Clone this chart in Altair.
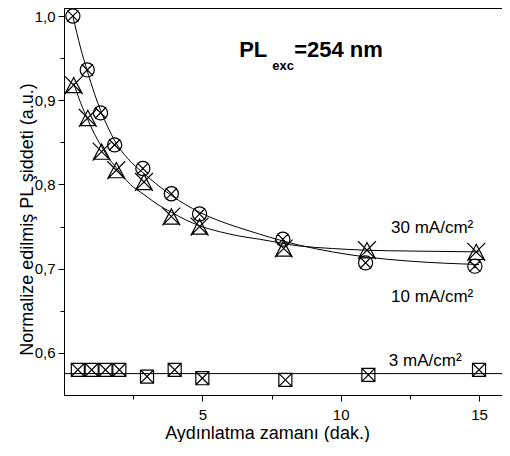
import altair as alt
import pandas as pd

# ---- measured points ----
t10 = [0.32, 0.84, 1.32, 1.83, 2.85, 3.88, 4.9, 7.91, 10.9, 14.85]
v10 = [1.000, 0.936, 0.885, 0.847, 0.819, 0.789, 0.765, 0.735, 0.707, 0.703]
t30 = [0.35, 0.86, 1.36, 1.89, 2.89, 3.88, 4.9, 7.94, 10.95, 14.9]
v30 = [0.918, 0.879, 0.839, 0.817, 0.803, 0.762, 0.750, 0.724, 0.722, 0.720]
t3 = [0.5, 1, 1.5, 2, 3, 4, 5, 8, 11, 15]
v3 = [0.580, 0.580, 0.580, 0.580, 0.572, 0.580, 0.570, 0.568, 0.574, 0.580]

# ---- fitted curves ----
fit10_t = [0.32, 0.6, 0.84, 1.1, 1.32, 1.6, 1.83, 2.3, 2.85, 3.4, 3.88, 4.4, 4.9, 5.6, 6.3, 7.07, 8.5, 9.7, 10.9, 12.5, 15.0]
fit10_v = [1.000, 0.962, 0.935, 0.908, 0.888, 0.867, 0.852, 0.831, 0.814, 0.799, 0.787, 0.776, 0.767, 0.757, 0.749, 0.741, 0.728, 0.720, 0.714, 0.709, 0.705]
fit30_t = [0.35, 0.6, 0.86, 1.1, 1.36, 1.6, 1.89, 2.4, 2.89, 3.4, 3.88, 4.4, 4.9, 5.62, 6.3, 7.07, 8.5, 9.7, 10.9, 12.5, 15.0]
fit30_v = [0.920, 0.897, 0.877, 0.860, 0.845, 0.832, 0.820, 0.800, 0.788, 0.776, 0.767, 0.758, 0.751, 0.744, 0.739, 0.735, 0.727, 0.724, 0.722, 0.721, 0.720]
fit3_t = [0.0, 15.83]
fit3_v = [0.5755, 0.5755]

# ---- axis ticks ----
x_ticks = [2.5, 5, 7.5, 10, 12.5, 15]
y_ticks = [0.55, 0.6, 0.65, 0.7, 0.75, 0.8, 0.85, 0.9, 0.95, 1.0]

# ---- annotations ----
series_labels = ["30 mA/cm²", "10 mA/cm²", "3 mA/cm²"]
series_label_t = [11.82, 11.82, 11.74]
series_label_v = [0.7426, 0.661, 0.585]
title_texts = ["PL", "=254 nm"]
title_t = [6.33, 8.32]
title_v = [0.9514, 0.9514]
sub_texts = ["exc"]
sub_t = [7.53]
sub_v = [0.936]

FONT = "Liberation Sans"
xs = alt.Scale(domain=[0, 15.83], nice=False, zero=False)
ys = alt.Scale(domain=[0.5501, 1.0095], nice=False, zero=False)

x_axis = alt.Axis(
    values=x_ticks, title="Aydınlatma zamanı (dak.)",
    labelExpr="datum.value % 5 == 0 ? datum.label : ''",
    tickSize={"condition": {"test": "datum.value % 5 != 0", "value": 4}, "value": 6},
    grid=False, domainColor="black", tickColor="black", labelColor="black",
    labelFont=FONT, labelFontSize=15, labelPadding=6,
    titleFont=FONT, titleFontSize=18, titleFontWeight="normal", titleColor="black",
    titleX=203, titleY=43, titleBaseline="alphabetic", titleAlign="center",
)
y_axis = alt.Axis(
    values=y_ticks, title="Normalize edilmiş PL şiddeti (a.u.)",
    labelExpr="round(datum.value*100) % 10 == 0 ? replace(format(datum.value, '.1f'), '.', ',') : ''",
    tickSize={"condition": {"test": "round(datum.value*100) % 10 != 0", "value": 4}, "value": 6},
    grid=False, domainColor="black", tickColor="black", labelColor="black",
    labelFont=FONT, labelFontSize=15, labelPadding=3,
    titleFont=FONT, titleFontSize=18, titleFontWeight="normal", titleColor="black",
    titleX=-32, titleY=211, titleAngle=-90, titleAlign="center", titleBaseline="alphabetic",
)

circleX = "M1,0A1,1,0,1,1,-1,0A1,1,0,1,1,1,0ZM-0.8,-0.8L0.8,0.8M0.8,-0.8L-0.8,0.8"
triX = "M0,-0.85L0.9,0.85L-0.9,0.85ZM-1,-1L1,1M1,-1L-1,1"
squareX = "M-1,-1L1,-1L1,1L-1,1ZM-1,-1L1,1M1,-1L-1,1"

def line(tt, vv):
    df = pd.DataFrame({"t": tt, "v": vv})
    return alt.Chart(df).mark_line(color="black", strokeWidth=1, interpolate="monotone").encode(
        x=alt.X("t:Q", scale=xs, axis=x_axis), y=alt.Y("v:Q", scale=ys, axis=y_axis))

def pts(tt, vv, shape, size):
    df = pd.DataFrame({"t": tt, "v": vv})
    return alt.Chart(df).mark_point(shape=shape, size=size, filled=False, color="black",
                                    strokeWidth=1.2, opacity=1).encode(
        x=alt.X("t:Q", scale=xs), y=alt.Y("v:Q", scale=ys))

def texts(tx, tt, vv, size, weight):
    df = pd.DataFrame({"txt": tx, "t": tt, "v": vv})
    return alt.Chart(df).mark_text(align="left", baseline="alphabetic", font=FONT, fontSize=size,
                                   fontWeight=weight, color="black").encode(
        x=alt.X("t:Q", scale=xs), y=alt.Y("v:Q", scale=ys), text="txt:N")

chart = alt.layer(
    line(fit10_t, fit10_v),
    line(fit30_t, fit30_v),
    line(fit3_t, fit3_v),
    pts(t10, v10, circleX, 200),
    pts(t30, v30, triX, 320),
    pts(t3, v3, squareX, 170),
    texts(series_labels, series_label_t, series_label_v, 17, "normal"),
    texts(title_texts, title_t, title_v, 22, "bold"),
    texts(sub_texts, sub_t, sub_v, 13, "bold"),
).properties(
    width=438, height=387,
    autosize=alt.AutoSizeParams(type="none"),
    padding={"left": 56, "top": 0, "right": 0, "bottom": 47},
    background="white",
).configure_view(stroke="black", strokeWidth=1)

chart.save("out.html", embed_options={"renderer": "svg", "actions": False})
